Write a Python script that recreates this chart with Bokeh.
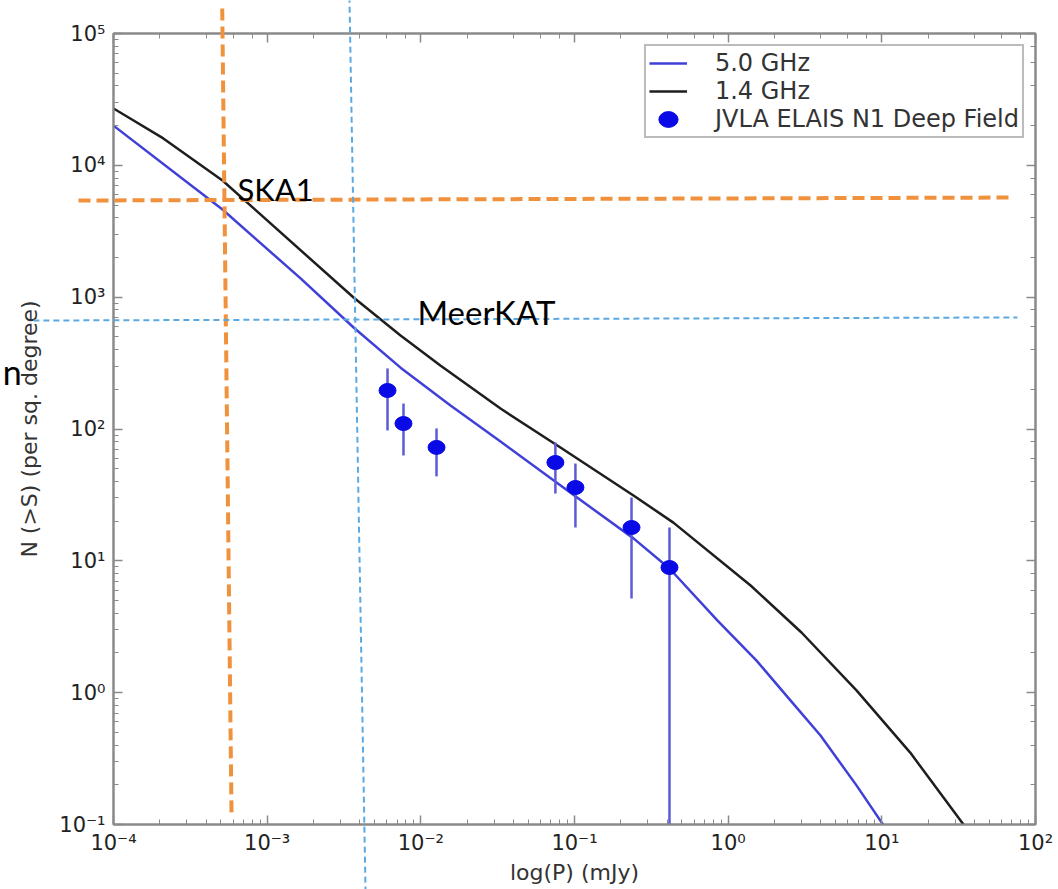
from bokeh.plotting import figure
from bokeh.models import (LogAxis, LogTicker, CustomJSTickFormatter, Legend, LegendItem,
                          Label, ColumnDataSource, Range1d)
from bokeh.embed import file_html
from bokeh.resources import INLINE

# Model source counts N(>S) per square degree
flux_5ghz = [1.0e-4, 5.12e-4, 1.65e-3, 3.65e-3, 7.38e-3, 0.0156, 0.033, 0.090,
             0.242, 0.415, 0.853, 1.53, 2.55, 3.99, 6.84, 10.3]
counts_5ghz = [2.0e4, 4.62e3, 1387, 589, 292, 151, 80.4, 34.1,
               14.8, 8.75, 3.52, 1.75, 0.871, 0.473, 0.198, 0.098]

flux_1p4ghz = [1.0e-4, 2.11e-4, 5.12e-4, 3.65e-3, 7.38e-3, 0.0134, 0.033, 0.081,
               0.242, 0.44, 1.40, 3.0, 6.84, 15.3, 34.0]
counts_1p4ghz = [2.70e4, 1.60e4, 7.67e3, 994, 512, 303, 143, 72.4,
                 31.3, 19.5, 6.5, 2.86, 1.04, 0.351, 0.1]

# JVLA ELAIS N1 deep field measurements with their error ranges
obs_flux = [6.07e-3, 7.71e-3, 0.01265, 0.0751, 0.1014, 0.235, 0.415]
obs_counts = [196, 110, 72.5, 55.7, 36, 17.9, 8.9]
obs_upper = [288, 156, 101, 79, 54.7, 30.2, 17.9]
obs_lower = [97.5, 63, 43.7, 32.4, 17.9, 5.18, 0.01]

# Survey sensitivity markers (flux limit line, source density line)
ska1_v_x = [5.10e-4, 5.86e-4]
ska1_v_y = [1.55e5, 0.123]
ska1_h_x = [5.92e-5, 71.9]
ska1_h_y = [5410, 5700]
meerkat_v_x = [3.43e-3, 4.37e-3]
meerkat_v_y = [1.9e5, 0.03]
meerkat_h_x = [3.01e-5, 76.3]
meerkat_h_y = [665, 702]
ska1_label_pos = (6.41e-4, 6.56e3)
meerkat_label_pos = (9.5e-3, 778)
side_label_pos = (1.9e-5, 272)

AXIS_GREY = "#8a8a8a"
BLUE_LINE = "#4040d8"
ORANGE = "#f0913d"
SKY = "#5aa9e2"

# page geometry
W, H = 1058, 889
LEFT, RIGHT, TOP, BOTTOM = 113, 23, 33, 65
FW, FH = W - LEFT - RIGHT, H - TOP - BOTTOM
X_DECADES = (-4, 2)
Y_DECADES = (-1, 5)

p = figure(x_axis_type="log", y_axis_type="log",
           x_range=Range1d(10 ** X_DECADES[0], 10 ** X_DECADES[1]),
           y_range=Range1d(10 ** Y_DECADES[0], 10 ** Y_DECADES[1]),
           frame_width=FW, frame_height=FH,
           min_border_left=LEFT, min_border_right=RIGHT,
           min_border_top=TOP, min_border_bottom=BOTTOM,
           output_backend="svg", toolbar_location=None)
p.grid.visible = False
p.outline_line_color = AXIS_GREY
p.outline_line_width = 2
p.background_fill_color = "white"
p.border_fill_color = "white"

sup_code = """
const sup = {"-": "\u207b", "0": "\u2070", "1": "\u00b9", "2": "\u00b2", "3": "\u00b3",
             "4": "\u2074", "5": "\u2075", "6": "\u2076", "7": "\u2077", "8": "\u2078", "9": "\u2079"};
const e = Math.round(Math.log10(tick));
return "10" + String(e).split("").map(c => sup[c]).join("");
"""

def style_axis(ax, labels=True):
    ax.axis_line_color = AXIS_GREY
    ax.axis_line_width = 2
    ax.major_tick_in = 9
    ax.major_tick_out = 0
    ax.minor_tick_in = 5
    ax.minor_tick_out = 0
    ax.major_tick_line_color = AXIS_GREY
    ax.minor_tick_line_color = AXIS_GREY
    ax.major_tick_line_width = 1.5
    ax.minor_tick_line_width = 1
    if labels:
        ax.formatter = CustomJSTickFormatter(code=sup_code)
        ax.major_label_text_font = "DejaVu Sans"
        ax.major_label_text_font_size = "21px"
        ax.major_label_text_color = "#222222"
        ax.axis_label_text_font = "DejaVu Sans"
        ax.axis_label_text_font_size = "22px"
        ax.axis_label_text_font_style = "normal"
        ax.axis_label_text_color = "#333333"
    else:
        ax.formatter = CustomJSTickFormatter(code="return '';")
        ax.major_label_standoff = 0

xa = p.xaxis[0]
ya = p.yaxis[0]
style_axis(xa)
style_axis(ya)
xa.axis_label = "log(P) (mJy)"
ya.axis_label = "N (>S) (per sq. degree)"
xa.major_label_standoff = 6
ya.major_label_standoff = 8
xa.axis_label_standoff = 2
ya.axis_label_standoff = 14

top_ax = LogAxis(ticker=LogTicker())
right_ax = LogAxis(ticker=LogTicker())
style_axis(top_ax, labels=False)
style_axis(right_ax, labels=False)
p.add_layout(top_ax, "above")
p.add_layout(right_ax, "right")

src5 = ColumnDataSource(dict(x=flux_5ghz, y=counts_5ghz))
src14 = ColumnDataSource(dict(x=flux_1p4ghz, y=counts_1p4ghz))
obs = ColumnDataSource(dict(x=obs_flux, y=obs_counts, lo=obs_lower, hi=obs_upper))

r5 = p.line("x", "y", source=src5, line_color=BLUE_LINE, line_width=2.5)
r14 = p.line("x", "y", source=src14, line_color="#1e1e1e", line_width=2.5)
p.segment(x0="x", y0="lo", x1="x", y1="hi", source=obs, line_color="#5b5bd6", line_width=2.5)
robs = p.ellipse(x="x", y="y", width=17, height=14, width_units="screen",
                 height_units="screen", source=obs, fill_color="#0a0ae6",
                 line_color="#0a0ae6")

legend = Legend(items=[LegendItem(label="5.0 GHz", renderers=[r5]),
                       LegendItem(label="1.4 GHz", renderers=[r14]),
                       LegendItem(label="JVLA ELAIS N1 Deep Field", renderers=[robs])],
                location="top_right")
legend.border_line_color = "#777777"
legend.border_line_width = 2
legend.label_text_font = "DejaVu Sans"
legend.label_text_font_size = "24px"
legend.label_text_color = "#333333"
legend.glyph_width = 38
legend.glyph_height = 24
legend.label_height = 24
legend.spacing = 0
legend.padding = 3
legend.margin = 11
legend.label_standoff = 28
legend.background_fill_alpha = 1
p.add_layout(legend)

# Transparent overlay spanning the whole page for the survey guide lines,
# sharing the log scales of the main plot extended out to the page edges.
px_per_x_dec = FW / (X_DECADES[1] - X_DECADES[0])
px_per_y_dec = FH / (Y_DECADES[1] - Y_DECADES[0])
ov = figure(x_axis_type="log", y_axis_type="log",
            x_range=Range1d(10 ** (X_DECADES[0] - LEFT / px_per_x_dec),
                            10 ** (X_DECADES[1] + RIGHT / px_per_x_dec)),
            y_range=Range1d(10 ** (Y_DECADES[0] - BOTTOM / px_per_y_dec),
                            10 ** (Y_DECADES[1] + TOP / px_per_y_dec)),
            frame_width=W, frame_height=H, min_border=0,
            x_axis_location=None, y_axis_location=None,
            output_backend="svg", toolbar_location=None)
ov.grid.visible = False
ov.outline_line_color = None
ov.background_fill_color = None
ov.border_fill_color = None
ov.margin = (-H, 0, 0, 0)

ov.line(ska1_v_x, ska1_v_y, line_color=ORANGE, line_width=4, line_dash="12 6")
ov.line(ska1_h_x, ska1_h_y, line_color=ORANGE, line_width=4, line_dash="12 6")
ov.line(meerkat_v_x, meerkat_v_y, line_color=SKY, line_width=2, line_dash="6 4")
ov.line(meerkat_h_x, meerkat_h_y, line_color=SKY, line_width=2, line_dash="6 4")

ov.add_layout(Label(x=ska1_label_pos[0], y=ska1_label_pos[1], text="SKA1",
                    text_font="Lato", text_font_size="31px", text_color="black",
                    text_baseline="alphabetic"))
ov.add_layout(Label(x=meerkat_label_pos[0], y=meerkat_label_pos[1], text="MeerKAT",
                    text_font="Lato", text_font_size="33px", text_color="black",
                    text_baseline="alphabetic"))
ov.add_layout(Label(x=side_label_pos[0], y=side_label_pos[1], text="n",
                    text_font="Lato", text_font_size="34px", text_color="black",
                    text_align="left", text_baseline="alphabetic"))

open("out.html", "w").write(file_html([p, ov], INLINE))
